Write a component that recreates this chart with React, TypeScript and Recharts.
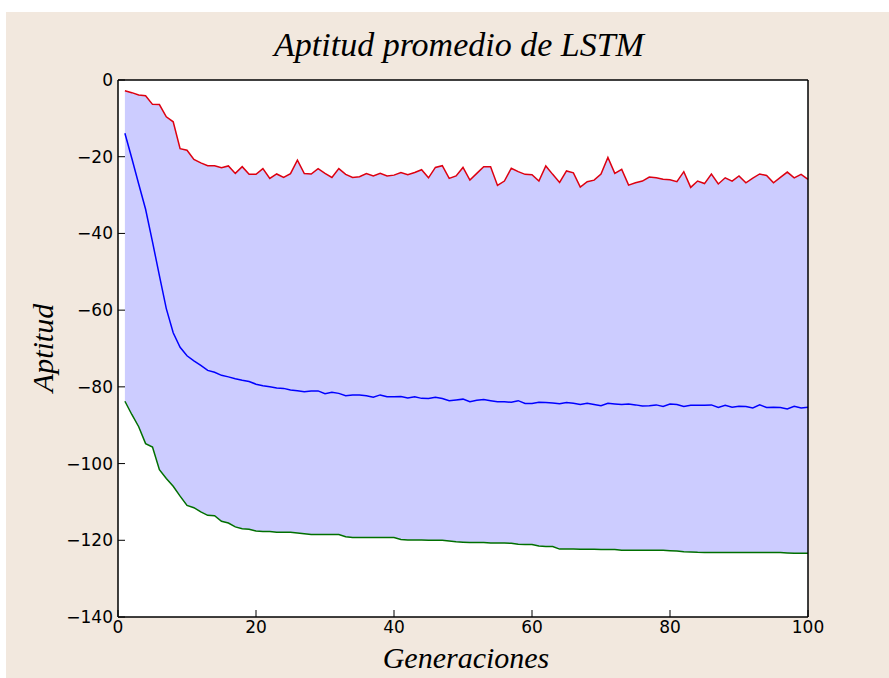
import React from 'react';
import { ComposedChart, Area, Line, XAxis, YAxis, CartesianGrid } from 'recharts';

// generaciones 1..100
const generaciones = Array.from({ length: 100 }, (_, i) => i + 1);

// mejor aptitud por generación
const aptitudMax = [
  -2.8, -3.3, -3.9, -4.1, -6.35, -6.4, -9.6, -10.9, -17.9, -18.3,
  -20.7, -21.6, -22.35, -22.35, -22.9, -22.4, -24.35, -22.6, -24.6, -24.6,
  -23.1, -25.65, -24.5, -25.4, -24.4, -20.9, -24.4, -24.5, -23.1, -24.35,
  -25.4, -23.1, -24.6, -25.4, -25.2, -24.4, -25.0, -24.3, -25.0, -24.8,
  -24.1, -24.7, -24.1, -23.4, -25.5, -22.8, -22.35, -25.65, -25.0, -22.8,
  -26.1, -24.35, -22.6, -22.6, -27.5, -26.35, -23.0, -23.9, -24.6, -24.7,
  -26.35, -22.4, -24.6, -26.7, -23.7, -24.2, -27.9, -26.5, -26.1, -24.5,
  -20.2, -24.35, -23.3, -27.4, -26.8, -26.35, -25.3, -25.5, -25.9, -26.0,
  -26.5, -23.9, -28.0, -26.35, -27.0, -24.5, -27.1, -25.5, -26.35, -25.0,
  -26.8, -25.6, -24.5, -24.9, -26.8, -25.4, -24.0, -25.5, -24.6, -25.9,
];

// aptitud promedio
const aptitudMedia = [
  -13.9, -20.4, -27.1, -33.7, -42.2, -51.0, -59.6, -65.9, -69.7, -71.9,
  -73.2, -74.4, -75.7, -76.2, -77.0, -77.4, -77.9, -78.3, -78.6, -79.3,
  -79.7, -80.0, -80.3, -80.4, -80.8, -81.0, -81.3, -81.05, -81.05, -81.8,
  -81.4, -81.7, -82.3, -82.1, -82.1, -82.3, -82.7, -82.1, -82.6, -82.6,
  -82.5, -82.9, -82.6, -83.0, -83.05, -82.7, -83.05, -83.6, -83.4, -83.2,
  -83.9, -83.5, -83.3, -83.6, -83.9, -83.9, -84.0, -83.6, -84.35, -84.35,
  -84.0, -84.1, -84.2, -84.4, -84.1, -84.3, -84.6, -84.3, -84.6, -84.9,
  -84.3, -84.45, -84.6, -84.45, -84.7, -85.0, -84.9, -84.7, -85.1, -84.5,
  -84.6, -85.1, -84.8, -84.8, -84.8, -84.7, -85.4, -84.8, -85.3, -85.05,
  -85.1, -85.5, -84.7, -85.4, -85.3, -85.4, -85.75, -85.05, -85.5, -85.3,
];

// peor aptitud por generación
const aptitudMin = [
  -83.75, -87.2, -90.4, -94.8, -95.7, -101.6, -103.9, -105.9, -108.5, -110.9,
  -111.5, -112.6, -113.5, -113.6, -115.05, -115.5, -116.5, -117.0, -117.1, -117.6,
  -117.7, -117.7, -117.9, -117.9, -117.9, -118.1, -118.3, -118.5, -118.5, -118.5,
  -118.5, -118.5, -119.05, -119.3, -119.3, -119.3, -119.3, -119.3, -119.3, -119.3,
  -119.8, -119.9, -119.9, -119.9, -120.0, -120.0, -120.0, -120.2, -120.4, -120.5,
  -120.6, -120.6, -120.6, -120.7, -120.7, -120.7, -120.8, -121.05, -121.1, -121.1,
  -121.5, -121.6, -121.65, -122.3, -122.3, -122.3, -122.35, -122.35, -122.35, -122.4,
  -122.4, -122.4, -122.6, -122.6, -122.6, -122.6, -122.6, -122.6, -122.6, -122.7,
  -122.8, -123.0, -123.05, -123.15, -123.2, -123.2, -123.2, -123.2, -123.2, -123.2,
  -123.2, -123.2, -123.2, -123.2, -123.2, -123.2, -123.3, -123.4, -123.4, -123.4,
];

const xTicks = [0, 20, 40, 60, 80, 100];
const yTicks = [-140, -120, -100, -80, -60, -40, -20, 0];

const data = generaciones.map((gen, i) => ({
  gen,
  max: aptitudMax[i],
  media: aptitudMedia[i],
  min: aptitudMin[i],
  banda: [aptitudMin[i], aptitudMax[i]],
}));

const W = 883;
const H = 666;
const BG = '#f2e8de';

const tickFont = { fontFamily: 'DejaVu Sans', fontSize: 17, fill: '#000' };
const labelFont = { fontFamily: '"Liberation Serif", serif', fontStyle: 'italic', fill: '#000' };
const axisLine = { stroke: '#000', strokeWidth: 1.5 };

const fmt = (v: number) => (v < 0 ? `\u2212${-v}` : `${v}`);

export default function App() {
  return (
    <div style={{ position: 'absolute', left: 6, top: 12, width: W, height: H, background: BG }}>
      <ComposedChart
        width={W}
        height={H}
        data={data}
        margin={{ top: 68, right: 81, bottom: 31, left: 52 }}
      >
        <CartesianGrid xAxisId="b" yAxisId="l" horizontal={false} vertical={false} fill="#ffffff" />
        <XAxis
          xAxisId="b"
          dataKey="gen"
          type="number"
          domain={[0, 100]}
          ticks={xTicks}
          height={30}
          tickSize={-7}
          tickMargin={11}
          tick={tickFont}
          axisLine={axisLine}
          tickLine={{ stroke: '#000' }}
          interval={0}
        />
        {/* caja superior y derecha, sólo marcas hacia dentro */}
        <XAxis
          xAxisId="t"
          orientation="top"
          dataKey="gen"
          type="number"
          domain={[0, 100]}
          ticks={xTicks}
          height={1}
          mirror
          tickSize={7}
          tick={false}
          axisLine={axisLine}
          tickLine={{ stroke: '#000' }}
          interval={0}
        />
        <YAxis
          yAxisId="l"
          type="number"
          domain={[-140, 0]}
          ticks={yTicks}
          width={60}
          tickSize={-7}
          tickMargin={12}
          tick={tickFont}
          tickFormatter={fmt}
          axisLine={axisLine}
          tickLine={{ stroke: '#000' }}
          interval={0}
        />
        <YAxis
          yAxisId="r"
          orientation="right"
          type="number"
          domain={[-140, 0]}
          ticks={yTicks}
          width={1}
          mirror
          tickSize={7}
          tick={false}
          axisLine={axisLine}
          tickLine={{ stroke: '#000' }}
          interval={0}
        />
        <Area
          xAxisId="b"
          yAxisId="l"
          dataKey="banda"
          type="linear"
          stroke="none"
          fill="#ccccff"
          fillOpacity={1}
          isAnimationActive={false}
        />
        <Line xAxisId="b" yAxisId="l" dataKey="max" type="linear" stroke="#dd0010" strokeWidth={1.5} dot={false} isAnimationActive={false} />
        <Line xAxisId="b" yAxisId="l" dataKey="media" type="linear" stroke="#0000ff" strokeWidth={1.5} dot={false} isAnimationActive={false} />
        <Line xAxisId="b" yAxisId="l" dataKey="min" type="linear" stroke="#006f00" strokeWidth={1.5} dot={false} isAnimationActive={false} />
      </ComposedChart>
      <svg width={W} height={H} style={{ position: 'absolute', left: 0, top: 0, pointerEvents: 'none' }}>
        <text x={453} y={44} textAnchor="middle" fontSize={34} {...labelFont}>
          Aptitud promedio de LSTM
        </text>
        <text x={460} y={656} textAnchor="middle" fontSize={30} {...labelFont}>
          Generaciones
        </text>
        <text x={47} y={336} textAnchor="middle" fontSize={30} transform="rotate(-90 47 336)" {...labelFont}>
          Aptitud
        </text>
      </svg>
    </div>
  );
}
